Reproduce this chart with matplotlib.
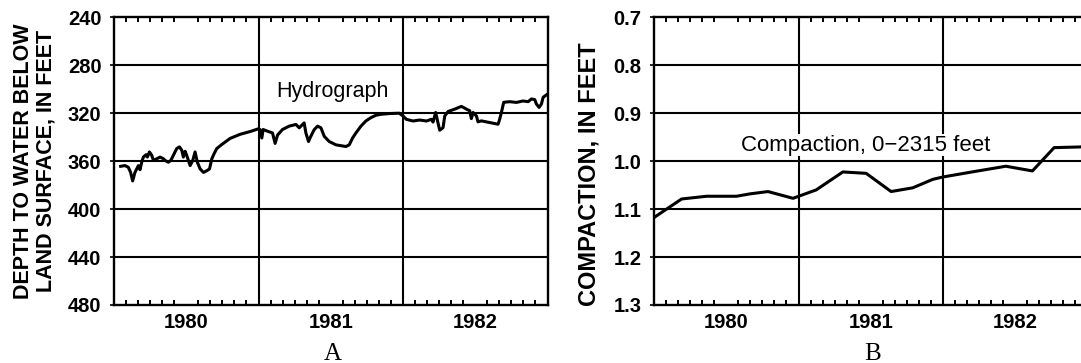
import matplotlib
matplotlib.use("Agg")
import matplotlib.pyplot as plt
import numpy as np
from matplotlib.ticker import FixedLocator, NullFormatter

plt.rcParams['font.family'] = ['Liberation Sans', 'DejaVu Sans']

# Water-level record (decimal year, depth to water in feet)
hydro_year = [
    1980.046, 1980.076, 1980.099, 1980.115, 1980.129, 1980.145, 1980.157, 1980.169,
    1980.180, 1980.192, 1980.203, 1980.222, 1980.231, 1980.245, 1980.261, 1980.273,
    1980.296, 1980.319, 1980.342, 1980.353, 1980.376, 1980.393, 1980.411, 1980.434,
    1980.453, 1980.469, 1980.480, 1980.492, 1980.503, 1980.527, 1980.545, 1980.561,
    1980.577, 1980.596, 1980.619, 1980.642, 1980.661, 1980.677, 1980.693, 1980.711,
    1980.746, 1980.804, 1980.873, 1980.942, 1981.000,
    1981.010, 1981.023, 1981.032, 1981.062, 1981.097, 1981.115, 1981.132, 1981.166,
    1981.212, 1981.259, 1981.282, 1981.305, 1981.316, 1981.328, 1981.346, 1981.362,
    1981.386, 1981.409, 1981.432, 1981.455, 1981.489, 1981.536, 1981.605, 1981.628,
    1981.651, 1981.674, 1981.709, 1981.743, 1981.778, 1981.813, 1981.847, 1981.905,
    1981.974,
    1982.000, 1982.023, 1982.069, 1982.115, 1982.162, 1982.196, 1982.208, 1982.226,
    1982.242, 1982.254, 1982.277, 1982.289, 1982.312, 1982.358, 1982.404, 1982.439,
    1982.462, 1982.473, 1982.485, 1982.508, 1982.519, 1982.542, 1982.600, 1982.658,
    1982.669, 1982.681, 1982.697, 1982.739, 1982.785, 1982.831, 1982.866, 1982.889,
    1982.912, 1982.923, 1982.942, 1982.958, 1982.970, 1982.993,
]
hydro_depth = [
    364.3, 363.7, 365.1, 369.4, 376.5, 369.4, 366.5, 363.7,
    367.1, 360.9, 356.6, 354.6, 356.6, 352.3, 355.1, 359.4,
    358.0, 356.6, 358.0, 359.4, 360.9, 359.4, 355.1, 349.5,
    348.1, 350.9, 356.6, 351.8, 355.1, 363.7, 359.4, 352.3,
    360.9, 366.5, 369.4, 368.0, 366.5, 358.0, 353.7, 349.5,
    346.1, 341.0, 337.6, 335.3, 333.0,
    333.6, 340.7, 333.6, 335.0, 336.5, 345.2, 338.2, 333.6,
    330.8, 329.4, 332.2, 329.4, 328.1, 336.5, 343.6, 339.3,
    333.6, 330.8, 332.2, 339.3, 343.6, 346.4, 347.8, 346.4,
    340.7, 336.5, 330.8, 326.5, 323.7, 321.7, 320.9, 320.3,
    320.0,
    322.3, 325.1, 326.5, 325.7, 326.5, 325.1, 327.4, 319.4,
    328.0, 334.2, 332.1, 322.3, 318.6, 316.6, 314.3, 316.6,
    318.0, 324.5, 319.4, 322.3, 327.2, 326.4, 327.8, 329.2,
    325.0, 319.4, 310.9, 310.4, 311.0, 309.8, 310.4, 308.1,
    308.7, 312.3, 315.2, 312.3, 306.7, 304.7,
]

# Compaction record (decimal year, compaction in feet)
comp_year = [
    1980.000, 1980.191, 1980.364, 1980.571, 1980.663, 1980.789, 1980.962, 1981.123,
    1981.307, 1981.468, 1981.641, 1981.791, 1981.929, 1981.998, 1982.228, 1982.435,
    1982.619, 1982.769, 1982.948, 1983.000,
]
comp_value = [
    1.1176, 1.0789, 1.0732, 1.0732, 1.0683, 1.0634, 1.0775, 1.0599,
    1.0225, 1.0254, 1.0634, 1.0556, 1.0380, 1.0331, 1.0211, 1.0106,
    1.0204, 0.9718, 0.9704, 0.9690,
]

years = [1980, 1981, 1982]
year_labels = ['1980', '1981', '1982']
depth_ticks = [240, 280, 320, 360, 400, 440, 480]
comp_ticks = [0.7, 0.8, 0.9, 1.0, 1.1, 1.2, 1.3]
comp_tick_labels = ['0.7', '0.8', '0.9', '1.0', '1.1', '1.2', '1.3']

W, H = 1081, 363
fig = plt.figure(figsize=(W / 100, H / 100), dpi=100)

bottom = (H - 305) / H
height = (305 - 17.3) / H
width = 433.5 / W
axA = fig.add_axes([114 / W, bottom, width, height])
axB = fig.add_axes([654 / W, bottom, width, height])

tick_font = dict(fontsize=14.5, fontweight='bold')


def style_axis(ax, yticks, ylabels, ylim):
    x0, x1 = years[0], years[-1] + 1
    ax.set_xlim(x0, x1)
    ax.set_ylim(ylim)
    for s in ax.spines.values():
        s.set_linewidth(1.7)
        s.set_color('black')
    # year boundaries and value grid
    for yb in range(x0 + 1, x1):
        ax.axvline(yb, color='black', lw=1.5, zorder=1)
    for yv in yticks[1:-1]:
        ax.axhline(yv, color='black', lw=1.5, zorder=1)
    # year labels at mid-year
    ax.xaxis.set_major_locator(FixedLocator([y + 0.5 for y in years]))
    ax.set_xticklabels(year_labels, **tick_font)
    ax.tick_params(axis='x', which='major', length=0, pad=6)
    # monthly ticks on top and bottom
    months = np.arange(x0 * 12, x1 * 12 + 1) / 12.0
    ax.xaxis.set_minor_locator(FixedLocator(months))
    ax.xaxis.set_minor_formatter(NullFormatter())
    ax.tick_params(axis='x', which='minor', direction='in', length=3.5,
                   width=1.4, top=True, bottom=True, color='black')
    ax.set_yticks(yticks)
    ax.set_yticklabels(ylabels, **tick_font)
    ax.tick_params(axis='y', which='major', direction='out', length=3,
                   width=1.2, pad=6, color='black')


style_axis(axA, depth_ticks, [str(v) for v in depth_ticks], (480, 240))
axA.plot(hydro_year, hydro_depth, color='black', lw=2.2, zorder=3,
         solid_joinstyle='round')
axA.text(1981.12, 302, 'Hydrograph', fontsize=15.5, ha='left', va='center')

style_axis(axB, comp_ticks, comp_tick_labels, (1.3, 0.7))
axB.plot(comp_year, comp_value, color='black', lw=2.2, zorder=3,
         solid_joinstyle='round')
axB.text(1980.6, 0.967, 'Compaction, 0\u22122315 feet', fontsize=16,
         ha='left', va='center',
         bbox=dict(facecolor='white', edgecolor='none', pad=0.5))

label_font = dict(fontweight='bold', rotation=90,
                  ha='center', va='center', linespacing=1.1)
fig.text(35 / W, 1 - 161 / H, 'DEPTH TO WATER BELOW\nLAND SURFACE, IN FEET',
         fontsize=15.5, **label_font)
fig.text(589 / W, 1 - 174 / H, 'COMPACTION, IN FEET', fontsize=17,
         **label_font)

fig.text(333 / W, 1 - 354 / H, 'A', fontsize=18, ha='center', va='center',
         family=['Liberation Serif', 'DejaVu Serif'])
fig.text(873 / W, 1 - 354 / H, 'B', fontsize=18, ha='center', va='center',
         family=['Liberation Serif', 'DejaVu Serif'])

fig.savefig('out.png', dpi=100, facecolor='white')
